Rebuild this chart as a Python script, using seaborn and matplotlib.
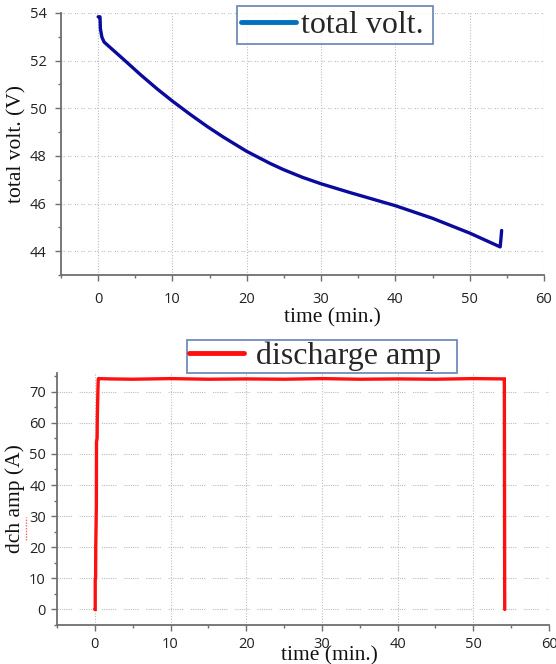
import numpy as np
import pandas as pd
import matplotlib
matplotlib.use("Agg")
import matplotlib.pyplot as plt
from matplotlib.lines import Line2D
from matplotlib.ticker import MultipleLocator
import seaborn as sns

# ---- data ----
t_volt = [0.0, 0.25, 0.3, 0.5, 0.8, 1.7, 3.5, 5.7, 7.95, 10.0, 12.4, 14.7, 16.9,
          20.0, 23.1, 24.9, 27.5, 30.0, 33.9, 40.0, 45.0, 50.0, 54.1, 54.2, 54.3]
volt = [53.84, 53.84, 53.34, 52.99, 52.78, 52.53, 52.03, 51.41, 50.81, 50.3, 49.74,
        49.23, 48.78, 48.19, 47.69, 47.43, 47.1, 46.83, 46.46, 45.91, 45.38, 44.76,
        44.18, 44.5, 44.87]

t_amp = [0.0, 0.05, 0.05, 0.1, 0.12, 0.2, 0.22, 0.3, 0.33, 0.4, 0.45, 0.5, 2.0, 5.0,
         10.0, 15.0, 20.0, 25.0, 30.0, 35.0, 40.0, 45.0, 50.0, 54.1, 54.1, 54.15]
amp = [0.0, 0.0, 9.5, 10.0, 20.0, 33.0, 54.0, 55.0, 62.0, 70.0, 74.0, 74.2, 74.1, 74.0,
       74.2, 74.0, 74.1, 74.0, 74.2, 74.0, 74.1, 74.0, 74.2, 74.1, 74.0, 0.0]

x_ticks = [0, 10, 20, 30, 40, 50, 60]
volt_ticks = [44, 46, 48, 50, 52, 54]
amp_ticks = [0, 10, 20, 30, 40, 50, 60, 70]

volt_label = "total volt."
amp_label = "discharge amp"

df_v = pd.DataFrame({"t": t_volt, "v": volt})
df_a = pd.DataFrame({"t": t_amp, "a": amp})

sns.set_theme(style="white")
plt.rcParams["font.family"] = ["Open Sans", "DejaVu Sans"]

fig = plt.figure(figsize=(5.56, 6.64), dpi=100)
ax1 = fig.add_axes([61/556, 1-275/664, (544-61)/556, (275-13)/664])
ax2 = fig.add_axes([57/556, 1-625/664, (549-57)/556, (625-373)/664])

serif = ["Liberation Serif", "DejaVu Serif"]
spine_c = "#6e6e6e"
grid_c = "#bdbdbd"

sns.lineplot(data=df_v, x="t", y="v", ax=ax1, sort=False, estimator=None,
             color="#0a0a9c", linewidth=2.4, solid_joinstyle="round",
             solid_capstyle="round")
sns.lineplot(data=df_a, x="t", y="a", ax=ax2, sort=False, estimator=None,
             color="#ff1010", linewidth=2.4, solid_joinstyle="miter")

ax1.set_xlim(-5, 60)
ax1.set_ylim(43, 54)
ax2.set_xlim(-5, 60)
ax2.set_ylim(-5, 76)

top_h = (0, (1, 1, 1, 3))
bot_h = (0, (1, 1, 1, 1, 1, 1, 1, 1, 1, 1, 1, 1, 1, 7))
for ax, yt, ymin, ypad, xpad, hls in [(ax1, volt_ticks, 1, 6.5, 8, top_h),
                                       (ax2, amp_ticks, 5, 4, 4.5, bot_h)]:
    ax.set_xticks(x_ticks)
    ax.set_yticks(yt)
    ax.xaxis.set_minor_locator(MultipleLocator(5))
    ax.yaxis.set_minor_locator(MultipleLocator(ymin))
    for s in ["top", "right"]:
        ax.spines[s].set_visible(False)
    for s in ["left", "bottom"]:
        ax.spines[s].set_color(spine_c)
        ax.spines[s].set_linewidth(1.3)
    ax.tick_params(axis="both", which="major", direction="out", length=4, width=1,
                   color=spine_c, labelsize=10.5, labelcolor="#222222")
    ax.tick_params(axis="both", which="minor", direction="out", length=2.5, width=1,
                   color=spine_c)
    ax.tick_params(axis="y", which="major", pad=ypad)
    ax.tick_params(axis="x", which="major", pad=xpad)
    ax.tick_params(axis="both", which="both", left=True, bottom=True)
    ax.grid(True, axis="x", which="major", linestyle=(0, (1, 1.5)), color=grid_c,
            linewidth=0.8)
    ax.grid(True, axis="y", which="major", linestyle=hls, color=grid_c,
            linewidth=0.8)
    ax.set_axisbelow(True)

ax1.set_xlabel("time (min.)", family=serif, fontsize=15.5, color="#111111")
ax1.xaxis.set_label_coords(0.563, -0.125)
ax1.set_ylabel("total volt. (V)", family=serif, fontsize=15.5, color="#111111")
ax1.yaxis.set_label_coords(-0.072, 0.5)

ax2.set_xlabel("time (min.)", family=serif, fontsize=15.5, color="#111111")
ax2.xaxis.set_label_coords(0.553, -0.085)
ax2.set_ylabel("dch amp (A)", family=serif, fontsize=15.5, color="#111111")
ax2.yaxis.set_label_coords(-0.066, 0.5)

# legends
h1 = [Line2D([0], [0], color="#0070c0", linewidth=3.5)]
leg1 = ax1.legend(h1, [volt_label], loc="upper left", mode="expand",
                  bbox_to_anchor=(237/556, 1-44/664, 196/556, 38/664),
                  bbox_transform=fig.transFigure,
                  prop={"family": serif, "size": 23}, frameon=True, fancybox=False,
                  handlelength=1.72, handletextpad=0.15, borderpad=0.14,
                  borderaxespad=0.0)
leg1.get_frame().set_edgecolor("#4f6ea8")
leg1.get_frame().set_linewidth(1.3)

h2 = [Line2D([0], [0], color="#ff1010", linewidth=3.5)]
leg2 = ax2.legend(h2, [amp_label], loc="upper left", mode="expand",
                  bbox_to_anchor=(187/556, 1-373/664, 270/556, 33/664),
                  bbox_transform=fig.transFigure,
                  prop={"family": serif, "size": 23}, frameon=True, fancybox=False,
                  handlelength=1.72, handletextpad=0.38, borderpad=0.06,
                  borderaxespad=0.0)
leg2.get_frame().set_edgecolor("#4f6ea8")
leg2.get_frame().set_linewidth(1.3)

# spell-check underline beneath "dch"
fig.add_artist(Line2D([25.5/556, 25.5/556], [1-540/664, 1-517/664], color="#ff6060",
                      linewidth=1.0, linestyle=(0, (1, 1))))

fig.savefig("out.png", dpi=100)
